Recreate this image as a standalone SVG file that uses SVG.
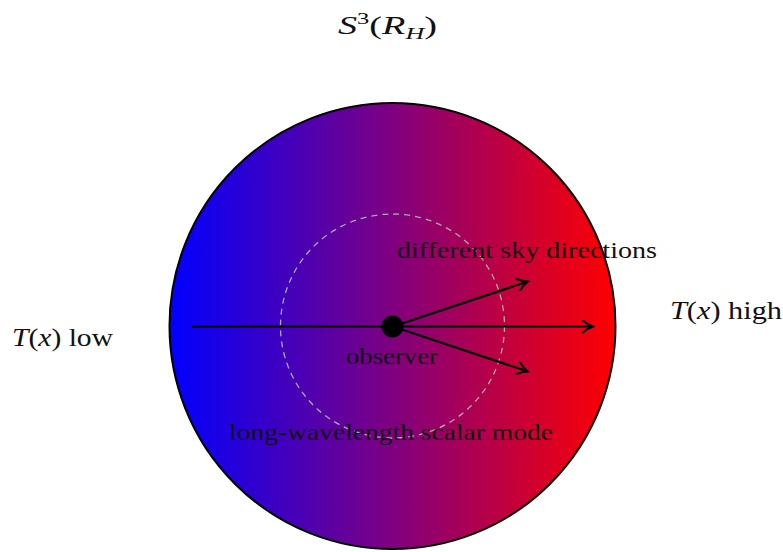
<svg xmlns="http://www.w3.org/2000/svg" width="783" height="552" viewBox="0 0 783 552">
<defs>
<linearGradient id="tgrad" x1="0" y1="0" x2="1" y2="0">
<stop offset="0" stop-color="#0000ff"/>
<stop offset="1" stop-color="#ff0000"/>
</linearGradient>
<marker id="arr" viewBox="0 0 14 14" refX="12" refY="7" markerWidth="14" markerHeight="14" markerUnits="userSpaceOnUse" orient="auto">
<path d="M2,1 Q7,5.5 12,7 Q7,8.5 2,13" fill="none" stroke="#000" stroke-width="2" stroke-linecap="round"/>
</marker>
<style>
text{font-family:"Liberation Serif","DejaVu Serif",serif;fill:#111;font-size:24px}
.o{font-size:25px}
.m{font-style:italic}
.ln{stroke:#000;stroke-width:2.2;fill:none}
</style>
</defs>
<rect width="783" height="552" fill="#fff"/>
<g id="sphere">
<circle cx="392.5" cy="326" r="223" fill="url(#tgrad)" stroke="#000" stroke-width="2"/>
<circle cx="392.5" cy="326" r="112" fill="none" stroke="#aaa" stroke-width="1.3" stroke-dasharray="6,5"/>
</g>
<g id="connectors">
<line class="ln" x1="192" y1="326.5" x2="593" y2="326.5" marker-end="url(#arr)"/>
<line class="ln" x1="393" y1="326.5" x2="528" y2="281.5" marker-end="url(#arr)"/>
<line class="ln" x1="393" y1="326.5" x2="528" y2="371.5" marker-end="url(#arr)"/>
</g>
<g id="observer">
<circle cx="392.5" cy="326.5" r="11" fill="#000"/>
<text x="346" y="364" textLength="92" lengthAdjust="spacingAndGlyphs">observer</text>
</g>
<g id="sky-label">
<text x="397" y="258" textLength="260" lengthAdjust="spacingAndGlyphs">different sky directions</text>
</g>
<g id="mode-label">
<text x="229" y="440" textLength="324" lengthAdjust="spacingAndGlyphs">long-wavelength scalar mode</text>
</g>
<g id="title">
<text class="o" x="338" y="34" textLength="99" lengthAdjust="spacingAndGlyphs"><tspan class="m">S</tspan><tspan font-size="16" dy="-10">3</tspan><tspan dy="10">(</tspan><tspan class="m">R</tspan><tspan class="m" font-size="17" dy="5">H</tspan><tspan dy="-5">)</tspan></text>
</g>
<g id="low-label">
<text class="o" x="12" y="346" textLength="101" lengthAdjust="spacingAndGlyphs"><tspan class="m">T</tspan>(<tspan class="m">x</tspan>) low</text>
</g>
<g id="high-label">
<text class="o" x="670" y="319" textLength="112" lengthAdjust="spacingAndGlyphs"><tspan class="m">T</tspan>(<tspan class="m">x</tspan>) high</text>
</g>
</svg>
